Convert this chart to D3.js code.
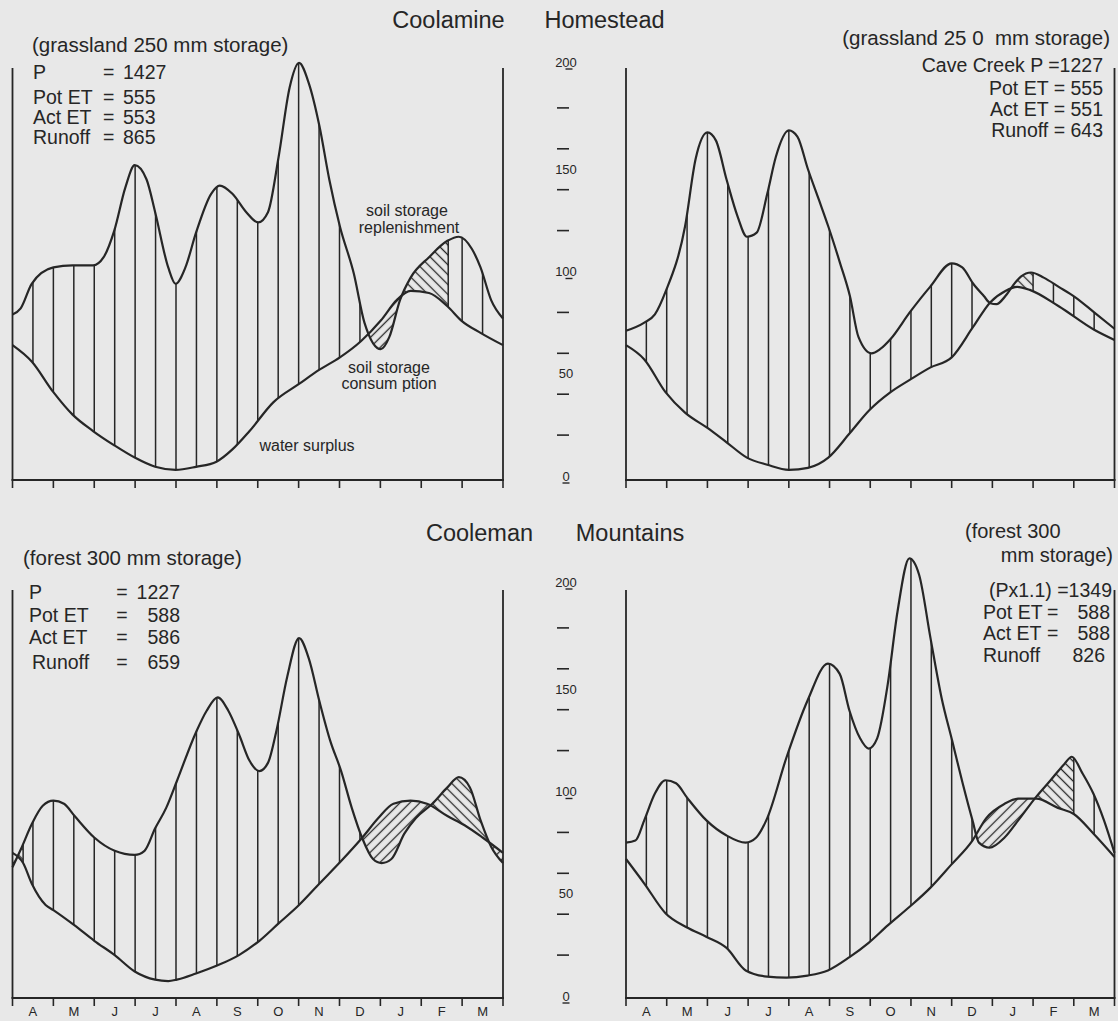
<!DOCTYPE html>
<html>
<head>
<meta charset="utf-8">
<script src="https://cdn.jsdelivr.net/npm/d3@7"></script>
<style>
html,body{margin:0;padding:0;background:#e8e8e8;}
svg{display:block;}
text{font-family:"Liberation Sans",Arial,Helvetica,sans-serif;fill:#262626;}
</style>
</head>
<body>
<svg id="chart" width="1118" height="1021"></svg>
<script>
// ---------------- DATA (months from 1 April = 0, values in mm) ----------------
const monthLabels = ["A","M","J","J","A","S","O","N","D","J","F","M"];
const yTickLabels = [0, 50, 100, 150, 200];
const yTickDashes = [20, 40, 60, 80, 120, 140, 160, 180];

// Coolamine (grassland 250 mm storage)
const coolamineP = [[0,79],[0.2,82],[0.47,94],[1.0,102],[1.47,103],[1.97,103],[2.23,107],[2.49,120],[2.76,141],[2.99,152],[3.28,145],[3.49,129],[3.81,102],[3.99,94],[4.23,102],[4.49,119],[4.86,138],[5.07,142],[5.38,138],[5.72,129],[6.01,124],[6.25,129],[6.51,156],[6.78,190],[7.01,202],[7.25,192],[7.51,171],[7.75,145],[8.01,122],[8.35,99],[8.61,75],[9.01,62],[9.22,68],[9.48,86],[9.74,97],[10.19,107],[10.64,115],[10.92,117],[11.24,111],[11.45,102],[11.71,86],[12,77]];
const coolamineET = [[0,64],[0.47,56],[1.0,41],[1.47,30],[1.97,22],[2.49,15],[2.99,9],[3.49,4.5],[3.99,3],[4.49,4.5],[4.99,7],[5.38,13],[5.8,22],[6.38,36],[7.01,45],[7.51,52],[8.01,58],[8.53,66],[9.01,76],[9.4,86],[9.74,90.5],[10.19,89.5],[10.64,83],[10.98,76],[11.45,70],[12,64]];
const coolamineRefillPeriods = [[9.3, 10.66]];
const coolamineRefillEnds = [10.66];
const coolamineStats = [["P","1427"],["Pot ET","555"],["Act ET","553"],["Runoff","865"]];

// Homestead / Cave Creek (grassland 250 mm storage)
const homesteadP = [[0,71],[0.45,75],[0.71,79],[0.97,90],[1.45,122],[1.71,155],[2.0,168],[2.21,164],[2.47,145],[2.74,127],[2.97,117],[3.21,119],[3.47,138],[3.68,156],[4.0,169],[4.21,166],[4.47,150],[4.74,135],[4.97,122],[5.26,104],[5.5,88],[5.71,68],[6.03,60],[6.24,62],[6.5,67],[6.97,80],[7.47,92.5],[8.0,104],[8.26,102],[8.53,94],[8.79,88],[8.95,84.5],[9.1,84],[9.32,88],[9.5,93],[9.7,97.5],[9.95,99.5],[10.26,97],[10.63,92.5],[11.03,87.5],[11.5,80],[12,72]];
const homesteadET = [[0,64],[0.45,57],[0.97,41],[1.45,31],[2.0,23.5],[2.47,16.5],[2.97,9],[3.47,5.5],[4.0,3],[4.47,4],[4.97,9],[5.5,21],[5.97,32],[6.5,41],[6.97,47],[7.47,53],[8.0,58],[8.53,73],[8.95,85],[9.32,90.5],[9.61,92.5],[9.92,91],[10.63,83],[11.5,71.5],[12,66.5]];
const homesteadRefillPeriods = [[9.3, 10.0]];
const homesteadRefillEnds = [10.0];
const homesteadStats = ["Cave Creek P =1227","Pot ET = 555","Act ET = 551","Runoff = 643"];

// Cooleman (forest 300 mm storage)
const coolemanP = [[0,63],[0.21,72],[0.47,84],[0.74,93],[1.0,95.5],[1.26,94],[1.52,88],[2.0,77.5],[2.5,71],[2.99,69],[3.23,71],[3.49,82],[3.76,92],[4.02,105],[4.49,129],[4.75,139.5],[5.02,146],[5.28,139.5],[5.54,128],[5.8,115],[6.04,110],[6.25,114],[6.46,130],[6.72,156],[7.01,175],[7.25,165],[7.51,144],[7.77,125],[8.04,110],[8.3,92],[8.56,77],[8.82,67],[9.03,65],[9.27,67],[9.59,79.5],[9.87,87],[10.27,94],[10.64,102],[10.92,107],[11.19,102],[11.45,86],[11.71,73],[12,65]];
const coolemanET = [[0,70],[0.26,65],[0.47,55],[0.81,44.5],[1.0,42],[1.52,34.5],[2.0,27],[2.5,20],[2.99,12],[3.49,8],[3.81,7.3],[4.02,8],[4.49,11],[5.02,15],[5.54,20],[6.04,27],[6.51,35.5],[7.01,44.5],[7.51,55],[8.04,66],[8.56,77.5],[8.95,87],[9.32,94],[9.74,95.5],[10.14,94],[10.64,88],[11.06,83.5],[11.5,77.5],[12,70]];
const coolemanRefillPeriods = [[0, 0.26], [10.0, 11.8]];
const coolemanRefillEnds = [0.26];
const coolemanStats = [["P","1227"],["Pot ET","588"],["Act ET","586"],["Runoff","659"]];

// Mountains (forest 300 mm storage, P x 1.1)
const mountainsP = [[0,75],[0.23,76],[0.45,86],[0.71,99],[0.97,105.5],[1.23,104],[1.5,97],[1.97,86],[2.47,78.5],[2.94,75],[3.2,77.5],[3.47,87],[3.94,116.5],[4.46,144.5],[4.96,162.5],[5.25,157.5],[5.49,139.5],[5.75,126],[5.96,121],[6.17,126],[6.43,152.5],[6.67,188],[6.96,214],[7.2,206],[7.48,175],[7.75,146],[8.01,125],[8.27,104],[8.51,86],[8.67,75],[8.93,72.5],[9.3,77.5],[9.64,86],[10.08,97.5],[10.43,105.5],[10.77,113.5],[10.95,117],[11.21,109],[11.48,99],[11.74,86],[12,70]];
const mountainsET = [[0,67],[0.45,55],[0.97,40.5],[1.5,33.5],[1.97,29],[2.47,23.5],[2.94,12.5],[3.47,9.5],[3.94,9],[4.46,10],[4.96,12.5],[5.49,19],[5.96,26],[6.43,34.5],[6.96,43.5],[7.48,53],[7.98,64],[8.51,76],[8.85,87],[9.3,94],[9.64,96.5],[10.08,96.5],[10.61,92],[11.0,89],[11.48,79.5],[12,68]];
const mountainsRefillPeriods = [[9.9, 11.0]];
const mountainsRefillEnds = [11.0];
const mountainsStats = [["Pot ET","=","588"],["Act ET","=","588"],["Runoff","","826"]];

// ---------------- LAYOUT ----------------
const INK = "#262626";
const svg = d3.select("#chart");
svg.append("rect").attr("width",1118).attr("height",1021).attr("fill","#e8e8e8");
const defs = svg.append("defs");

function hatch(id, angle){
  const p = defs.append("pattern").attr("id",id).attr("patternUnits","userSpaceOnUse")
    .attr("width",7).attr("height",7).attr("patternTransform",`rotate(${angle})`);
  p.append("line").attr("x1",3.5).attr("x2",3.5).attr("y1",-1).attr("y2",8)
    .attr("stroke",INK).attr("stroke-width",1.3);
}
hatch("hatchFwd", 45);   // "/"  soil storage consumption
hatch("hatchBack", -45); // "\"  soil storage replenishment

const rows = {
  top:    {y: d3.scaleLinear().domain([0,200]).range([476,67]),  axisY: 480, frameTop: 68},
  bottom: {y: d3.scaleLinear().domain([0,200]).range([996,587]), axisY: 998, frameTop: 590}
};
const cols = {
  left:  d3.scaleLinear().domain([0,12]).range([12.5,503]),
  right: d3.scaleLinear().domain([0,12]).range([626,1114.5])
};

const panels = [
  {id:"coolamine", row:"top", col:"left", P:coolamineP, ET:coolamineET, refill:coolamineRefillPeriods, ends:coolamineRefillEnds, months:false},
  {id:"homestead", row:"top", col:"right", P:homesteadP, ET:homesteadET, refill:homesteadRefillPeriods, ends:homesteadRefillEnds, months:false},
  {id:"cooleman", row:"bottom", col:"left", P:coolemanP, ET:coolemanET, refill:coolemanRefillPeriods, ends:coolemanRefillEnds, months:true},
  {id:"mountains", row:"bottom", col:"right", P:mountainsP, ET:mountainsET, refill:mountainsRefillPeriods, ends:mountainsRefillEnds, months:true}
];
const halfMonths = d3.range(1, 24).map(i => i/2);
const curve = d3.curveMonotoneX;

panels.forEach(p => {
  const x = cols[p.col], R = rows[p.row], y = R.y;
  const yHi = y(235), yLo = y(-15);
  const below = d3.area().x(d=>x(d[0])).y0(yLo).y1(d=>y(d[1])).curve(curve);
  const above = d3.area().x(d=>x(d[0])).y0(yHi).y1(d=>y(d[1])).curve(curve);
  const clip = (name, d) => {
    defs.append("clipPath").attr("id", p.id+name).append("path").attr("d", d);
    return `url(#${p.id+name})`;
  };
  const cBelowP = clip("-belowP", below(p.P)), cAboveP = clip("-aboveP", above(p.P));
  const cBelowE = clip("-belowE", below(p.ET)), cAboveE = clip("-aboveE", above(p.ET));
  const g = svg.append("g");

  // water surplus (vertical lines) and soil storage replenishment ("\")
  const gs = g.append("g").attr("clip-path", cBelowP).append("g").attr("clip-path", cAboveE);
  gs.selectAll("rect").data(p.refill).join("rect")
    .attr("x", d=>x(d[0])).attr("width", d=>x(d[1])-x(d[0]))
    .attr("y", yHi).attr("height", yLo-yHi).attr("fill","url(#hatchBack)");
  const vlines = halfMonths
    .filter(m => !p.refill.some(([a,b]) => m>a && m<b) && !p.ends.some(e => Math.abs(e-m) < 0.1))
    .concat(p.ends);
  gs.selectAll("line").data(vlines).join("line")
    .attr("x1", d=>x(d)).attr("x2", d=>x(d)).attr("y1", yHi).attr("y2", yLo)
    .attr("stroke", INK).attr("stroke-width", 1.5);

  // soil storage consumption ("/")
  const gc = g.append("g").attr("clip-path", cBelowE).append("g").attr("clip-path", cAboveP);
  gc.append("rect").attr("x", x(0)).attr("width", x(12)-x(0))
    .attr("y", yHi).attr("height", yLo-yHi).attr("fill","url(#hatchFwd)");

  // curves
  const line = d3.line().x(d=>x(d[0])).y(d=>y(d[1])).curve(curve);
  [p.P, p.ET].forEach(s => g.append("path").attr("d", line(s))
    .attr("fill","none").attr("stroke",INK).attr("stroke-width",2.2).attr("stroke-linejoin","round"));

  // frame and month axis
  [0,12].forEach(m => g.append("line").attr("x1",x(m)).attr("x2",x(m))
    .attr("y1",R.frameTop).attr("y2",R.axisY).attr("stroke",INK).attr("stroke-width",1.8));
  g.append("line").attr("x1",x(0)-1).attr("x2",x(12)+1).attr("y1",R.axisY).attr("y2",R.axisY)
    .attr("stroke",INK).attr("stroke-width",1.8);
  g.selectAll("line.tick").data(d3.range(0,13)).join("line").attr("class","tick")
    .attr("x1",d=>x(d)).attr("x2",d=>x(d)).attr("y1",R.axisY).attr("y2",R.axisY+8)
    .attr("stroke",INK).attr("stroke-width",1.6);
  if (p.months) {
    g.selectAll("text.mon").data(monthLabels).join("text").attr("class","mon")
      .attr("x",(d,i)=>x(i+0.5)).attr("y",1016)
      .attr("text-anchor","middle").attr("font-size",13).text(d=>d);
  }
});

// central mm axis for each row
Object.values(rows).forEach(R => {
  const y = R.y;
  svg.selectAll(null).data(yTickDashes).join("line")
    .attr("x1",557).attr("x2",569).attr("y1",d=>y(d)).attr("y2",d=>y(d))
    .attr("stroke",INK).attr("stroke-width",1.6);
  yTickLabels.forEach(v => {
    const cy = y(v) + (v===200 ? -5 : 0);
    svg.append("text").attr("x",566).attr("y",cy).attr("dy","0.35em")
      .attr("text-anchor","middle").attr("font-size",13).text(v);
    if (v % 100 === 0) {
      const dx = v===0 ? -3.5 : -0.5;
      svg.append("line").attr("x1",566+dx).attr("x2",566+dx+7)
        .attr("y1",cy+7).attr("y2",cy+7).attr("stroke",INK).attr("stroke-width",1.4);
    }
  });
});

// ---------------- TEXT ----------------
function txt(x, y, s, size, anchor){
  return svg.append("text").attr("x",x).attr("y",y).attr("dy","0.35em")
    .attr("font-size",size).attr("text-anchor",anchor||"start").text(s);
}
// titles
txt(448.5, 20, "Coolamine", 23.5, "middle");
txt(604.5, 20, "Homestead", 23.5, "middle");
txt(479.5, 533, "Cooleman", 23.5, "middle");
txt(630, 533, "Mountains", 23.5, "middle");

// Coolamine
txt(32, 45, "(grassland 250 mm storage)", 20.5);
[72,97,117,137].forEach((yy,i) => {
  txt(33, yy, coolamineStats[i][0], 19.5);
  txt(103, yy, "=", 19.5);
  txt(123, yy, coolamineStats[i][1], 19.5);
});
txt(407, 210, "soil storage", 16, "middle");
txt(409, 227, "replenishment", 16, "middle");
txt(389, 367, "soil storage", 16, "middle");
txt(389, 383, "consum ption", 16, "middle");
txt(307, 445, "water surplus", 16, "middle");

// Homestead
txt(1110, 38, "(grassland 25 0  mm storage)", 20.5, "end").attr("xml:space","preserve");
[65,88,109,130].forEach((yy,i) => txt(1103, yy, homesteadStats[i], 19.5, "end"));

// Cooleman
txt(23, 558, "(forest 300 mm storage)", 20.5);
[592,615,637,662].forEach((yy,i) => {
  txt(i===3 ? 32 : 29, yy, coolemanStats[i][0], 19.5);
  txt(122, yy, "=", 19.5, "middle");
  txt(180, yy, coolemanStats[i][1], 19.5, "end");
});

// Mountains
txt(965, 531, "(forest 300", 20);
txt(1113, 555, "mm storage)", 20, "end");
txt(1112, 590, "(Px1.1) =1349", 19.5, "end");
[612,633,655].forEach((yy,i) => {
  txt(983, yy, mountainsStats[i][0], 19.5);
  if (mountainsStats[i][1]) txt(1047, yy, mountainsStats[i][1], 19.5);
  txt(i===2 ? 1105 : 1110, yy, mountainsStats[i][2], 19.5, "end");
});
</script>
</body>
</html>
